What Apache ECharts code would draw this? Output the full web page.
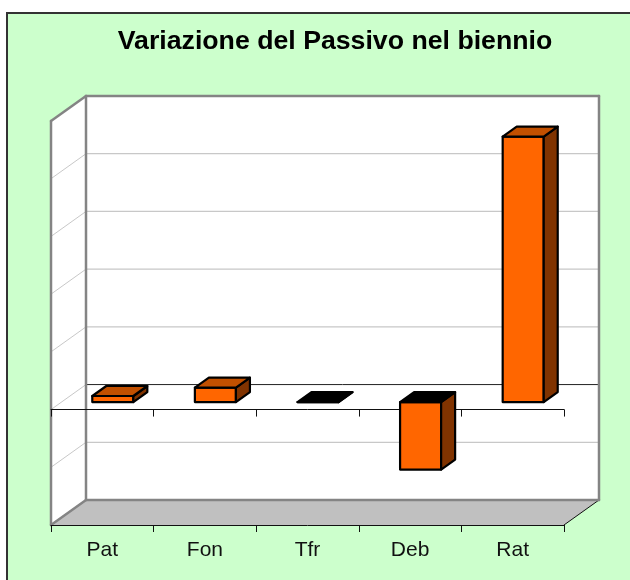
<!DOCTYPE html>
<html>
<head>
<meta charset="utf-8">
<style>html,body{margin:0;padding:0;background:#fff;overflow:hidden}#c{width:630px;height:580px}</style>
<script src="https://cdn.jsdelivr.net/npm/echarts@6/dist/echarts.min.js"></script>
</head>
<body>
<div id="c"></div>
<script>
const titleText = 'Variazione del Passivo nel biennio';
const categories = ['Pat', 'Fon', 'Tfr', 'Deb', 'Rat'];
const values = [0.105, 0.25, 0, -1.17, 4.6];
const yMin = -2;
const yMax = 5;
const yStep = 1;
const gridValues = [-1, 1, 2, 3, 4];
const zeroValue = 0;

// depth of the 3D box, px
const DEPTH_X = 35, DEPTH_Y = -25;
const BAR_NEAR = 0.3, BAR_FAR = 0.7, BAR_WIDTH = 0.4;

function poly(points, fill, stroke, lineWidth) {
  return { type: 'polygon', shape: { points }, style: { fill, stroke: stroke || 'none', lineWidth: lineWidth || 0, lineJoin: 'round' } };
}
function seg(a, b, stroke, lineWidth) {
  return { type: 'line', shape: { x1: a[0], y1: a[1], x2: b[0], y2: b[1] }, style: { stroke, lineWidth, fill: 'none', lineCap: 'round' } };
}

function renderWalls(params, api) {
  const band = api.size([1, 0])[0];
  const left = api.coord([0, 0])[0] - band / 2;
  const right = api.coord([categories.length - 1, 0])[0] + band / 2;
  const yAt = v => api.coord([0, v])[1];
  const top = yAt(yMax), bottom = yAt(yMin);
  const bx = p => [p[0] + DEPTH_X, p[1] + DEPTH_Y];
  const LT = [left, top], LB = [left, bottom], RB = [right, bottom], RT = [right, top];
  const gray = '#848484';
  const wall = 2.5;
  const children = [
    poly([bx(LT), bx(RT), bx(RB), bx(LB)], '#ffffff'),
    poly([LT, bx(LT), bx(LB), LB], '#ffffff'),
    poly([LB, RB, bx(RB), bx(LB)], '#C0C0C0')
  ];
  gridValues.concat([zeroValue]).forEach(v => {
    const p = [left, yAt(v)], q = [right, yAt(v)];
    children.push(seg(p, bx(p), '#C8C8C8', 1));
    children.push(seg(bx(p), bx(q), v === zeroValue ? '#222222' : '#C8C8C8', v === zeroValue ? 1 : 1.2));
  });
  children.push(
    seg(RB, bx(RB), '#111111', 1),
    seg(bx(LB), bx(RB), gray, wall),
    seg(bx(LT), bx(RT), gray, wall),
    seg(bx(RT), bx(RB), gray, wall),
    seg(bx(LT), bx(LB), gray, wall),
    seg(LT, bx(LT), gray, wall),
    seg(LT, LB, gray, wall),
    seg(LB, bx(LB), gray, wall)
  );
  return { type: 'group', children };
}

function renderBar(params, api) {
  const i = api.value(0), v = api.value(1);
  const band = api.size([1, 0])[0];
  const c0 = api.coord([i, 0]), c1 = api.coord([i, v]);
  const ox = DEPTH_X * BAR_NEAR, oy = DEPTH_Y * BAR_NEAR;
  const dx = DEPTH_X * (BAR_FAR - BAR_NEAR), dy = DEPTH_Y * (BAR_FAR - BAR_NEAR);
  const x0 = c0[0] - band * BAR_WIDTH / 2 + ox, x1 = x0 + band * BAR_WIDTH;
  const yTop = Math.min(c0[1], c1[1]) + oy, yBot = Math.max(c0[1], c1[1]) + oy;
  const topFill = v > 0 ? '#C25000' : '#000000';
  const k = '#000000', lw = 2.2;
  const children = [
    poly([[x0, yBot], [x1, yBot], [x1, yTop], [x0, yTop]], '#FF6600', k, lw),
    poly([[x1, yBot], [x1 + dx, yBot + dy], [x1 + dx, yTop + dy], [x1, yTop]], '#803300', k, lw),
    poly([[x0, yTop], [x1, yTop], [x1 + dx, yTop + dy], [x0 + dx, yTop + dy]], topFill, k, lw)
  ];
  return { type: 'group', children };
}

const chart = echarts.init(document.getElementById('c'), null, { renderer: 'canvas' });
chart.setOption({
  animation: false,
  backgroundColor: '#ffffff',
  graphic: [{
    type: 'rect', z: -1, silent: true,
    shape: { x: 7, y: 13, width: 800, height: 800 },
    style: { fill: '#CCFFCC', stroke: '#333333', lineWidth: 2 }
  }],
  title: {
    text: titleText, left: 330, top: 23, textAlign: 'center',
    textStyle: { fontFamily: 'Liberation Sans', fontWeight: 'bold', fontSize: 26.7, color: '#000' }
  },
  grid: { left: 51, top: 121, width: 513, height: 404, containLabel: false },
  xAxis: [
    {
      type: 'category', data: categories, position: 'bottom', z: 3,
      axisLine: { onZero: false, lineStyle: { color: '#111', width: 1 } },
      axisTick: { show: true, length: 7, lineStyle: { color: '#111' } },
      axisLabel: { fontFamily: 'Liberation Sans', fontSize: 21, color: '#111', margin: 15 },
      splitLine: { show: false }
    },
    {
      type: 'category', data: categories, position: 'bottom', z: 3,
      axisLine: { onZero: true, lineStyle: { color: '#111', width: 1 } },
      axisTick: { show: true, length: 7, lineStyle: { color: '#111' } },
      axisLabel: { show: false },
      splitLine: { show: false }
    }
  ],
  yAxis: { type: 'value', min: yMin, max: yMax, interval: yStep, show: false },
  series: [
    { type: 'custom', name: 'walls', z: 1, silent: true, clip: false, renderItem: renderWalls, data: [[0, 0]], encode: { x: 0, y: 1 } },
    { type: 'custom', name: 'Variazione', z: 5, clip: false, renderItem: renderBar, data: values.map((v, i) => [i, v]), encode: { x: 0, y: 1 } }
  ]
});
</script>
</body>
</html>
